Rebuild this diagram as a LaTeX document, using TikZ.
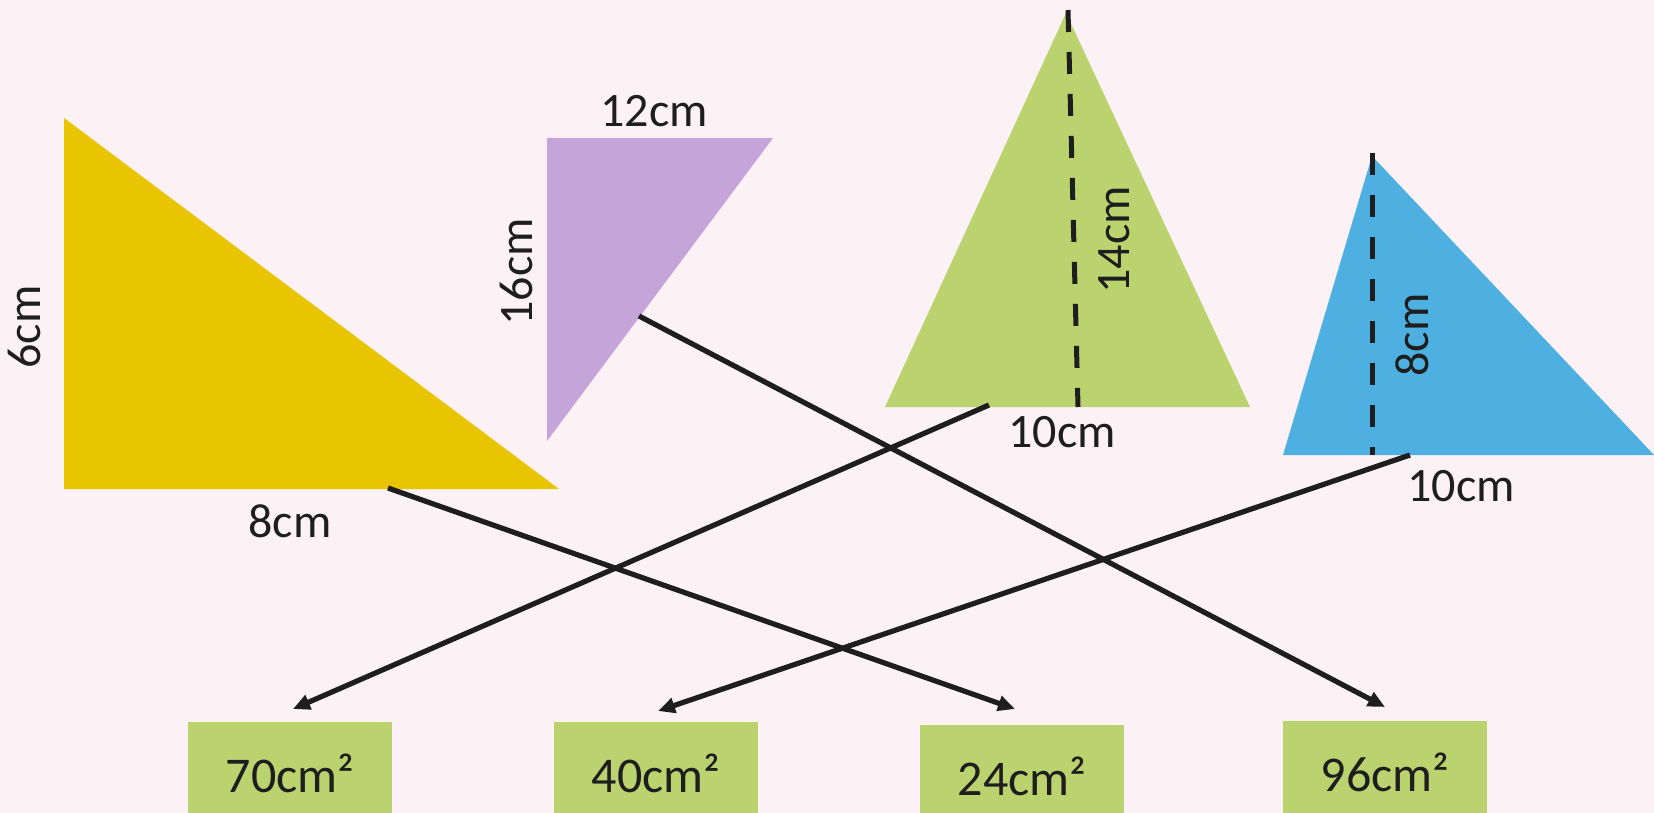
\documentclass[tikz,border=0pt]{standalone}
\usepackage{fontspec}
\setmainfont{Carlito}
\usetikzlibrary{arrows.meta}
\definecolor{bgpink}{HTML}{FCF1F4}
\definecolor{tyellow}{HTML}{E8C500}
\definecolor{tpurple}{HTML}{C5A5D9}
\definecolor{tgreen}{HTML}{BBD36F}
\definecolor{tblue}{HTML}{4DB0E0}
\definecolor{ink}{HTML}{1E1E1E}
\begin{document}
\begin{tikzpicture}[x=1pt,y=-1pt,
  lbl/.style={text=ink,font=\fontsize{48}{52}\selectfont,inner sep=0pt},
  areabox/.style={fill=tgreen,minimum width=204pt,minimum height=102pt,anchor=north west,inner sep=0pt,text=ink,font=\fontsize{50}{54}\selectfont},
  link/.style={draw=ink,line width=5.2pt,-{Triangle[length=17pt,width=15pt]}},
  heightline/.style={draw=ink,line width=5pt,dash pattern=on 22pt off 20pt}]
\useasboundingbox (0,0) rectangle (1654,813);
\clip (0,0) rectangle (1654,813);
\fill[bgpink] (0,0) rectangle (1654,813);
% triangles
\fill[tyellow] (64,118) -- (64,489) -- (559,489) -- cycle;
\fill[tpurple] (547,138) -- (773,138) -- (547,441) -- cycle;
\fill[tgreen] (1066,13) -- (885,407) -- (1250,407) -- cycle;
\fill[tblue] (1372,156) -- (1283,455) -- (1654,455) -- cycle;
% heights
\coordinate (gtop) at (1068,10);
\coordinate (gbot) at (1078,407);
\draw[heightline] (gtop) -- (gbot);
\coordinate (btop) at (1372,153);
\coordinate (bbot) at (1372,455);
\draw[heightline] (btop) -- (bbot);
% labels
\node[lbl,rotate=90] (l6) at (24,327) {6cm};
\node[lbl] (l8) at (290,521) {8cm};
\node[lbl] (l12) at (654,111) {12cm};
\node[lbl,rotate=90] (l16) at (516,272) {16cm};
\node[lbl,rotate=90] (l14) at (1114,240) {14cm};
\node[lbl] (l10a) at (1062,432) {10cm};
\node[lbl,rotate=90] (l8b) at (1412,335) {8cm};
\node[lbl] (l10b) at (1461,486) {10cm};
% answer boxes
\node[areabox] (a70) at (188,722) {70cm²};
\node[areabox] (a40) at (554,722) {40cm²};
\node[areabox] (a24) at (920,725) {24cm²};
\node[areabox] (a96) at (1283,721) {96cm²};
% connectors
\coordinate (s1) at (388,488);
\coordinate (e1) at (1015,709);
\coordinate (s2) at (639,316);
\coordinate (e2) at (1385,707);
\coordinate (s3) at (989,405);
\coordinate (e3) at (293,709);
\coordinate (s4) at (1410,455);
\coordinate (e4) at (658,711);
\draw[link] (s1) -- (e1);
\draw[link] (s2) -- (e2);
\draw[link] (s3) -- (e3);
\draw[link] (s4) -- (e4);
\end{tikzpicture}
\end{document}
